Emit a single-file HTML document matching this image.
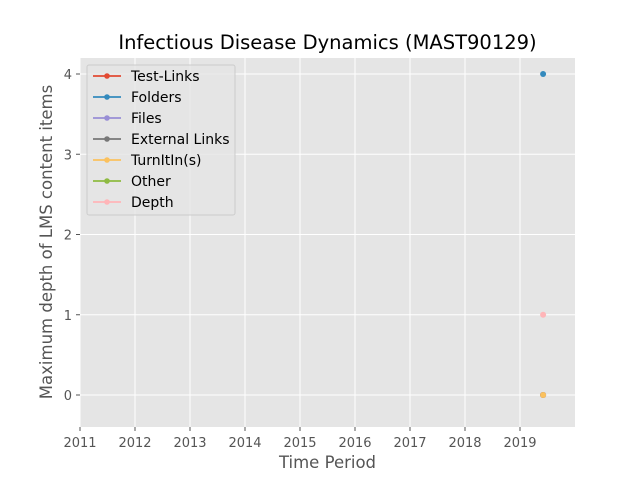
<!DOCTYPE html>
<html><head><meta charset="utf-8"><style>
body{margin:0;background:#fff;font-family:"DejaVu Sans","Liberation Sans",sans-serif;}
svg text{font-family:"DejaVu Sans","Liberation Sans",sans-serif;}
</style></head><body>
<svg id="chart" width="640" height="480">
<rect x="0" y="0" width="640" height="480" fill="#fff"/>
<rect x="80" y="58" width="495" height="369" fill="#e5e5e5"/>
<g id="grid"></g><g id="ticks"></g><g id="marks"></g>
<text x="327.5" y="49" text-anchor="middle" font-size="19.5" fill="#000">Infectious Disease Dynamics (MAST90129)</text>
<text x="327.5" y="468" text-anchor="middle" font-size="16.5" fill="#555">Time Period</text>
<text transform="translate(52,242) rotate(-90)" text-anchor="middle" font-size="16.5" fill="#555">Maximum depth of LMS content items</text>
<g id="legend"></g>
</svg>
<script>
const xTicks=[2011,2012,2013,2014,2015,2016,2017,2018,2019];
const yTicks=[0,1,2,3,4];
const seriesNames=["Test-Links","Folders","Files","External Links","TurnItIn(s)","Other","Depth"];
const seriesColors=["#E24A33","#348ABD","#988ED5","#777777","#FBC15E","#8EBA42","#FFB5B8"];
const pointX=[2019.42];
const testLinks=[0];
const folders=[4];
const files=[0];
const externalLinks=[0];
const turnitin=[0];
const other=[null];
const depth=[1];
const seriesValues=[testLinks,folders,files,externalLinks,turnitin,other,depth];
const NS="http://www.w3.org/2000/svg";
const X=v=>80+(v-2011)*55;
const Y=v=>395-v*80.25;
function mk(t,a,p){const e=document.createElementNS(NS,t);for(const k in a)e.setAttribute(k,a[k]);p.appendChild(e);return e;}
const grid=document.getElementById('grid'),ticks=document.getElementById('ticks'),marks=document.getElementById('marks'),leg=document.getElementById('legend');
xTicks.forEach(t=>{
 const l=mk('line',{x1:X(t),x2:X(t),y1:58,y2:427,stroke:'#fff','stroke-width':1},grid);
 
 
 const tk=mk('line',{x1:X(t),x2:X(t),y1:427,y2:431,stroke:'#555'},ticks);
 
 
 const tx=mk('text',{x:X(t),y:447,'text-anchor':'middle','font-size':13,fill:'#555'},ticks);
 tx.textContent=t;
 
 
});
yTicks.forEach(t=>{
 const l=mk('line',{x1:80,x2:575,y1:Y(t),y2:Y(t),stroke:'#fff','stroke-width':1},grid);
 
 
 const tk=mk('line',{x1:76,x2:80,y1:Y(t),y2:Y(t),stroke:'#555'},ticks);
 
 
 const tx=mk('text',{x:72,y:Y(t)+5,'text-anchor':'end','font-size':13,fill:'#555'},ticks);
 tx.textContent=t;
 
 
});
seriesValues.forEach((vals,i)=>{
 vals.forEach((v,j)=>{
  if(v===null)return;
  const c=mk('circle',{cx:X(pointX[j]),cy:Y(v),r:3,fill:seriesColors[i]},marks);
  
  
 });
});
const box=mk('rect',{x:87,y:65,width:148,height:150,fill:'#e5e5e5',stroke:'#ccc',rx:2,'fill-opacity':0.8},leg);


seriesNames.forEach((n,i)=>{
 const y=76+i*21;
 const g=mk('g',{},leg);
 
 
 mk('line',{x1:93,x2:121,y1:y,y2:y,stroke:seriesColors[i],'stroke-width':1.8},g);
 mk('circle',{cx:107,cy:y,r:2.8,fill:seriesColors[i]},g);
 const t=mk('text',{x:131,y:y+5,'font-size':14,fill:'#000'},g);
 t.textContent=n;
});
</script>
</body></html>
